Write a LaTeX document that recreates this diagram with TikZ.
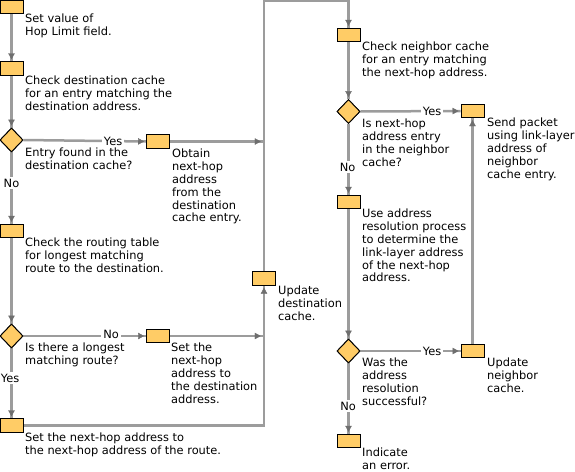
\documentclass[tikz,border=0pt]{standalone}
\usepackage{fontspec}
\setmainfont{DejaVu Sans}
\usetikzlibrary{shapes.geometric,arrows.meta,decorations.markings}
\definecolor{boxfill}{HTML}{FFCC66}
\definecolor{linegray}{HTML}{9C9C9C}
\definecolor{arrgray}{HTML}{6E6E6E}
\tikzset{
  box/.style={draw=black, line width=0.9pt, fill=boxfill, minimum width=23pt, minimum height=13.5pt, inner sep=0pt},
  dia/.style={diamond, draw=black, line width=0.9pt, fill=boxfill, minimum width=23pt, minimum height=24pt, inner sep=0pt},
  txt/.style={anchor=north west, align=left, inner sep=0pt, yshift=10pt, execute at begin node={\rule{0pt}{10pt}}},
  lbl/.style={anchor=base, fill=white, inner sep=2pt},
  conn/.style={draw=linegray, line width=2.5pt},
  flow/.style={conn, postaction={decorate}, decoration={markings,
    mark=at position -2pt with {\arrow{Triangle[length=6pt,width=6.5pt,line width=0.4pt,color=arrgray]}}}}
}
\begin{document}
\begin{tikzpicture}[x=1pt,y=-1pt,font=\fontsize{11.4}{12.8}\selectfont]
\useasboundingbox (0,0) rectangle (575,471);
% boxes
\node[box] (b1) at (11.5,7) {};
\node[box] (b2) at (11.5,68.5) {};
\node[dia] (d1) at (11.5,140) {};
\node[box] (b3) at (158,141.5) {};
\node[box] (b4) at (11.5,231) {};
\node[dia] (d2) at (11.5,336) {};
\node[box] (b5) at (158,336) {};
\node[box] (b6) at (11.5,425.5) {};
\node[box] (b7) at (264,278.5) {};
\node[box] (b8) at (348.5,35) {};
\node[dia] (d3) at (348.5,111.5) {};
\node[box] (b9) at (472.5,111) {};
\node[box] (b10) at (348.5,202) {};
\node[dia] (d4) at (348.5,351) {};
\node[box] (b11) at (472.5,351) {};
\node[box] (b12) at (348.5,441) {};
\coordinate (top) at (264,1.2);
% connectors
\path[flow] (b1.south) -- (b2.north);
\path[flow] (b2.south) -- (d1.north);
\path[flow] (d1.east) -- (b3.west);
\path[flow] (d1.south) -- (b4.north);
\path[flow] (b4.south) -- (d2.north);
\path[flow] (d2.east) -- (b5.west);
\path[flow] (d2.south) -- (b6.north);
\path[flow] (b3.east) -- ([xshift=-1.25pt]b3.east -| b7);
\path[flow] (b5.east) -- ([xshift=-1.25pt]b5.east -| b7);
\path[flow] (b6.east) -- (b6.east -| b7) -- (b7.south);
\path[flow] (b7.north) -- (top) -- (top -| b8) -- (b8.north);
\path[flow] (b8.south) -- (d3.north);
\path[flow] (d3.east) -- (b9.west);
\path[flow] (d3.south) -- (b10.north);
\path[flow] (b10.south) -- (d4.north);
\path[flow] (d4.east) -- (b11.west);
\path[flow] (d4.south) -- (b12.north);
\path[flow] (b11.north) -- (b9.south);
% redraw shapes on top
\foreach \n in {b1,b2,b3,b4,b5,b6,b7,b8,b9,b10,b11,b12}{\node[box] at (\n) {};}
\foreach \n in {d1,d2,d3,d4}{\node[dia] at (\n) {};}
% labels
\node[lbl] (y1) at (113,145) {Yes};
\node[lbl] (n1) at (11.5,187) {No};
\node[lbl] (n2) at (111,338.5) {No};
\node[lbl] (y2) at (10,382) {Yes};
\node[lbl] (y3) at (432,115) {Yes};
\node[lbl] (n3) at (347.5,171) {No};
\node[lbl] (y4) at (432,355) {Yes};
\node[lbl] (n4) at (348,410) {No};
% texts
\node[txt] (t1) at (25,24) {Set value of\\Hop Limit field.};
\node[txt] (t2) at (25,86) {Check destination cache\\for an entry matching the\\destination address.};
\node[txt] (t3) at (25,158) {Entry found in the\\destination cache?};
\node[txt] (t4) at (172,159) {Obtain\\next-hop\\address\\from the\\destination\\cache entry.};
\node[txt] (t5) at (25,248) {Check the routing table\\for longest matching\\route to the destination.};
\node[txt] (t6) at (25,353) {Is there a longest\\matching route?};
\node[txt] (t7) at (171,353) {Set the\\next-hop\\address to\\the destination\\address.};
\node[txt] (t8) at (25,443) {Set the next-hop address to\\the next-hop address of the route.};
\node[txt] (t9) at (278,296) {Update\\destination\\cache.};
\node[txt] (t10) at (362,52) {Check neighbor cache\\for an entry matching\\the next-hop address.};
\node[txt] (t11) at (362,129) {Is next-hop\\address entry\\in the neighbor\\cache?};
\node[txt] (t12) at (487,128) {Send packet\\using link-layer\\address of\\neighbor\\cache entry.};
\node[txt] (t13) at (362,219) {Use address\\resolution process\\to determine the\\link-layer address\\of the next-hop\\address.};
\node[txt] (t14) at (362,368) {Was the\\address\\resolution\\successful?};
\node[txt] (t15) at (487,368) {Update\\neighbor\\cache.};
\node[txt] (t16) at (362,458) {Indicate\\an error.};
\end{tikzpicture}
\end{document}
